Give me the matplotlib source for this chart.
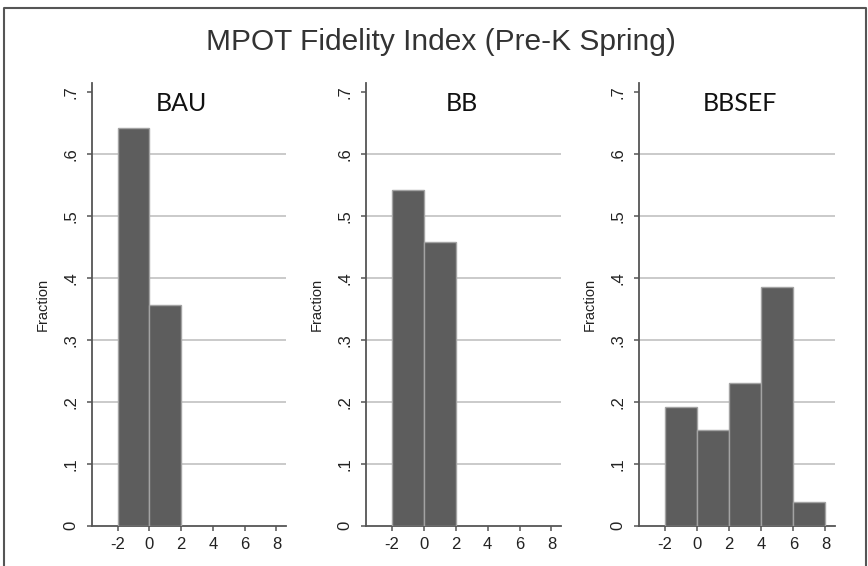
import matplotlib.pyplot as plt
from matplotlib.lines import Line2D

plt.rcParams['axes.unicode_minus'] = False

# histogram fractions, bins of width 2 starting at -2
groups = ['BAU', 'BB', 'BBSEF']
bin_lefts = [-2, 0, 2, 4, 6]
bau = [0.643, 0.357]
bb = [0.542, 0.458]
bbsef = [0.192, 0.154, 0.231, 0.385, 0.038]
fractions = [bau, bb, bbsef]

xticks = [-2, 0, 2, 4, 6, 8]
yticks = [0, .1, .2, .3, .4, .5, .6, .7]
ytick_labels = ['0', '.1', '.2', '.3', '.4', '.5', '.6', '.7']

W, H = 868, 566
fig = plt.figure(figsize=(W / 100, H / 100), dpi=100)

# axes boxes in pixels: left, right (top 83, bottom 526)
boxes = [(92, 286), (366, 561), (639, 835)]
title_x = [0.462, 0.493, 0.515]
top, bottom = 83, 525.7

bar_color = '#5d5d5d'
edge_color = '#a3a3a3'
axis_color = '#555555'
grid_color = '#c6c6c6'

for i, (name, vals) in enumerate(zip(groups, fractions)):
    l, r = boxes[i]
    ax = fig.add_axes([l / W, 1 - bottom / H, (r - l) / W, (bottom - top) / H])
    ax.bar(bin_lefts[:len(vals)], vals, width=2, align='edge',
           color=bar_color, edgecolor=edge_color, linewidth=1.0, zorder=3)
    ax.set_xlim(-3.62, 8.6)
    ax.set_ylim(0, 0.715)
    for y in yticks[1:-1]:
        ax.axhline(y, color=grid_color, lw=1.3, zorder=1)
    ax.set_xticks(xticks)
    ax.set_yticks(yticks)
    ax.set_yticklabels(ytick_labels, rotation=90, va='center')
    ax.tick_params(axis='both', colors=axis_color, labelcolor='#222222',
                   labelsize=12, length=3.5, width=1.1)
    ax.tick_params(axis='y', pad=6)
    ax.tick_params(axis='x', pad=4.5)
    for lab in ax.get_xticklabels() + ax.get_yticklabels():
        lab.set_fontfamily('Liberation Sans')
    for s in ['top', 'right']:
        ax.spines[s].set_visible(False)
    for s in ['left', 'bottom']:
        ax.spines[s].set_color(axis_color)
        ax.spines[s].set_linewidth(1.3)
    ax.set_ylabel('Fraction', fontsize=10.5, family='Liberation Sans',
                  color='#222222', va='center')
    ax.yaxis.set_label_coords(-0.253, 0.5)
    ax.text(title_x[i], 0.953, name, transform=ax.transAxes, ha='center',
            va='center', fontsize=18, family='Lato', color='#111111')

fig.text(0.508, 1 - 42 / H, 'MPOT Fidelity Index (Pre-K Spring)',
         ha='center', va='center', fontsize=21.5, family='Liberation Sans',
         color='#333333')

# outer frame (left, top, right)
xl, xr, yt = 3.5 / W, 865.5 / W, 1 - 8 / H
fig.add_artist(Line2D([xl, xl, xr, xr], [0, yt, yt, 0],
                      transform=fig.transFigure, color='#555555', lw=1.5))

fig.savefig('out.png', dpi=100)
plt.close(fig)
